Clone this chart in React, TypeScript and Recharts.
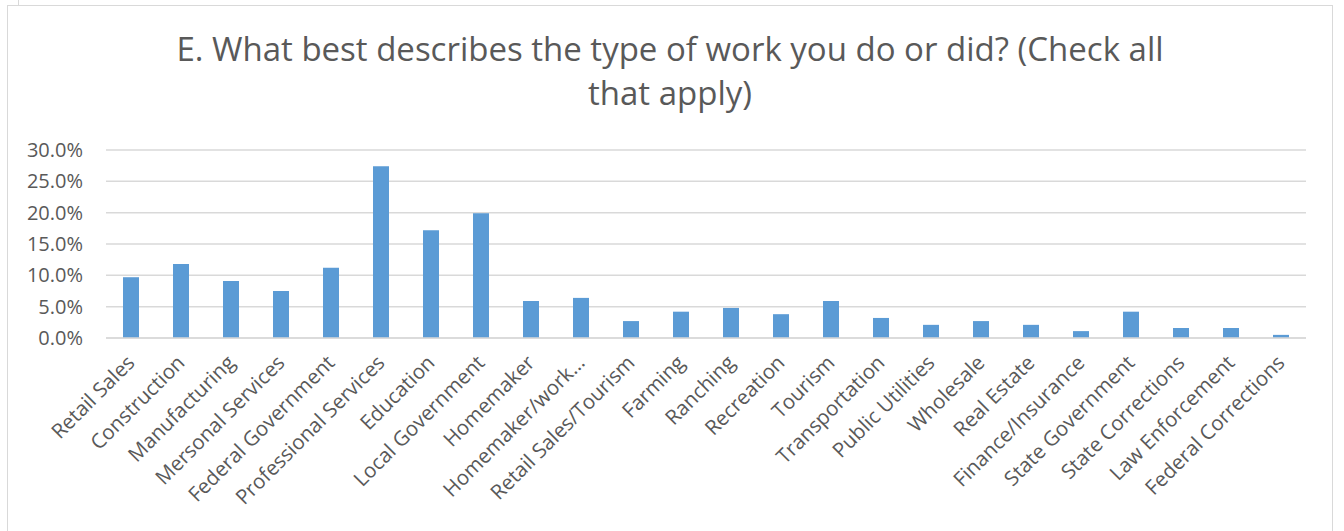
import React from "react";
import { BarChart, Bar, XAxis, YAxis, CartesianGrid } from "recharts";

const categories = [
  "Retail Sales", "Construction", "Manufacturing", "Mersonal Services", "Federal Government",
  "Professional Services", "Education", "Local Government", "Homemaker", "Homemaker/work…",
  "Retail Sales/Tourism", "Farming", "Ranching", "Recreation", "Tourism", "Transportation",
  "Public Utilities", "Wholesale", "Real Estate", "Finance/Insurance", "State Government",
  "State Corrections", "Law Enforcement", "Federal Corrections",
];
const shares = [
  9.7, 11.8, 9.1, 7.5, 11.2, 27.4, 17.2, 19.9, 5.9, 6.4, 2.7, 4.2, 4.8, 3.8, 5.9, 3.2, 2.1,
  2.7, 2.1, 1.1, 4.2, 1.6, 1.6, 0.5,
];
const yTicks = [0, 5, 10, 15, 20, 25, 30];

const data = categories.map((c, i) => ({ name: c, value: shares[i] }));

const TEXT = "#595959";
const FONT = "'Open Sans', 'DejaVu Sans', sans-serif";

const XTick = (props: any) => {
  const { x, y, payload } = props;
  return (
    <g transform={`translate(${x + 5},${y + 18})`}>
      <text transform="rotate(-45)" textAnchor="end" fill={TEXT} fontSize={20.5} fontFamily={FONT}>
        {payload.value}
      </text>
    </g>
  );
};

export default function App() {
  return (
    <div style={{ position: "absolute", left: 0, top: 0, width: 1344, height: 531, background: "#fff", overflow: "hidden" }}>
      <div style={{ position: "absolute", left: 18, top: 0, width: 1, height: 5, background: "#d9d9d9" }} />
      <div style={{ position: "absolute", left: 7, top: 5, width: 1324, height: 560, border: "1.5px solid #d9d9d9" }} />
      <div
        style={{
          position: "absolute", left: 175, top: 27, width: 990, textAlign: "center",
          fontFamily: FONT, fontSize: 33, color: TEXT, lineHeight: "44px",
        }}
      >
        E. What best describes the type of work you do or did? (Check all that apply)
      </div>
      <div style={{ position: "absolute", left: 0, top: 0 }}>
        <BarChart width={1344} height={531} data={data} margin={{ top: 150, right: 38, left: 0, bottom: 0 }}>
          <CartesianGrid vertical={false} stroke="#d9d9d9" strokeWidth={1.5} />
          <XAxis
            dataKey="name"
            interval={0}
            height={193}
            tickLine={false}
            axisLine={{ stroke: "#d9d9d9", strokeWidth: 1.5 }}
            tick={<XTick />}
          />
          <YAxis
            width={106}
            domain={[0, 30]}
            ticks={yTicks}
            axisLine={false}
            tickLine={false}
            tickMargin={17}
            tickFormatter={(v: number) => `${v.toFixed(1)}%`}
            tick={{ fill: TEXT, fontSize: 20, fontFamily: FONT }}
          />
          <Bar dataKey="value" fill="#5b9bd5" barSize={16} isAnimationActive={false} />
        </BarChart>
      </div>
    </div>
  );
}
